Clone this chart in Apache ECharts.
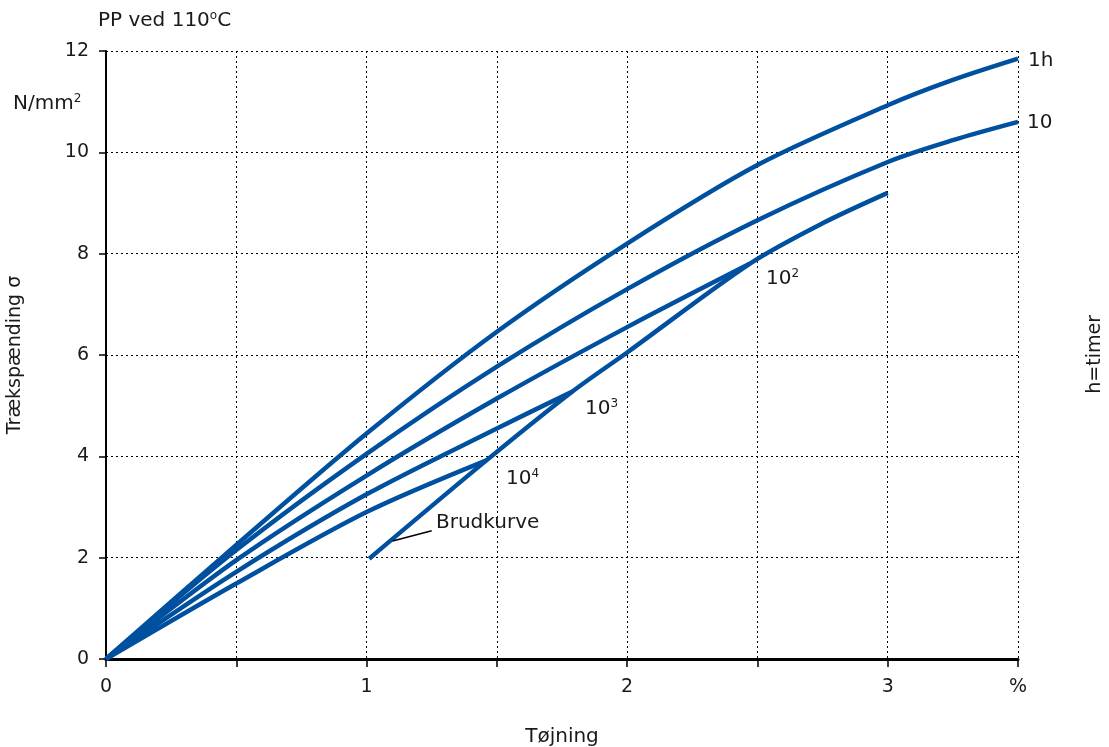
<!DOCTYPE html>
<html>
<head>
<meta charset="utf-8">
<script src="https://cdn.jsdelivr.net/npm/echarts@6/dist/echarts.min.js"></script>
<style>
  html, body { margin: 0; padding: 0; background: #fff; }
  #chart { width: 1109px; height: 747px; }
</style>
</head>
<body>
<div id="chart"></div>
<script>
// strain (%) vs stress (N/mm2)
const curve1h = [[0, 0], [0.5, 2.25], [1, 4.45], [1.5, 6.46], [2, 8.2], [2.5, 9.75], [3, 10.93], [3.25, 11.43], [3.5, 11.85]];
const curve10 = [[0, 0], [0.5, 2.15], [1, 4.05], [1.5, 5.77], [2, 7.3], [2.5, 8.66], [3, 9.81], [3.25, 10.24], [3.5, 10.6]];
const curve100 = [[0, 0], [0.5, 1.95], [1, 3.62], [1.5, 5.14], [2, 6.55], [2.47, 7.8]];
const curve1000 = [[0, 0], [0.5, 1.72], [1, 3.25], [1.5, 4.55], [1.79, 5.28]];
const curve10000 = [[0, 0], [0.5, 1.49], [1, 2.9], [1.46, 3.92]];
const brudkurve = [[1.01, 1.98], [1.46, 3.92], [1.79, 5.28], [2, 6.05], [2.47, 7.8], [2.75, 8.6], [3, 9.2]];
const brudLeader = [[1.1, 2.33], [1.25, 2.53]];

const xTickLabels = { 0: '0', 1: '1', 2: '2', 3: '3', 3.5: '%' };

const blue = '#0050a0';
const font = 'DejaVu Sans';
const textColor = '#1a1a1a';

const chart = echarts.init(document.getElementById('chart'));

function curve(data) {
  return {
    type: 'line',
    data: data,
    symbol: 'none',
    smooth: 0.3,
    lineStyle: { color: blue, width: 4.5 },
    z: 3
  };
}

const sup = { fontFamily: font, fontSize: 12, color: textColor, verticalAlign: 'top', padding: [0, 0, 10, 0] };
const base = { fontFamily: font, fontSize: 20, color: textColor };

function label(left, top, text) {
  return {
    type: 'text', left: left, top: top,
    style: { text: text, rich: { b: base, s: sup }, font: '20px ' + font, fill: textColor }
  };
}

const option = {
  animation: false,
  grid: { left: 106, right: 91, top: 51, bottom: 88, outerBoundsMode: 'none' },
  xAxis: {
    type: 'value',
    min: 0, max: 3.5, interval: 0.5,
    name: 'Tøjning',
    nameLocation: 'middle',
    nameGap: 68,
    nameTextStyle: { fontFamily: font, fontSize: 20, color: textColor },
    axisLine: { onZero: false, lineStyle: { color: '#000', width: 3 } },
    axisTick: { show: true, length: 8, lineStyle: { color: '#000', width: 1.5 } },
    axisLabel: {
      margin: 19, fontFamily: font, fontSize: 19, color: textColor,
      formatter: v => xTickLabels[v] !== undefined ? xTickLabels[v] : ''
    },
    splitLine: { show: true, lineStyle: { color: '#000', type: [2, 3], width: 1 } }
  },
  yAxis: {
    type: 'value',
    min: 0, max: 12, interval: 2,
    name: 'Trækspænding σ',
    nameLocation: 'middle',
    nameGap: 81,
    nameTextStyle: { fontFamily: font, fontSize: 19, color: textColor },
    axisLine: { show: true, lineStyle: { color: '#000', width: 2 } },
    axisTick: { show: true, length: 7, lineStyle: { color: '#000', width: 1.5 } },
    axisLabel: { margin: 17, fontFamily: font, fontSize: 19, color: textColor },
    splitLine: { show: true, lineStyle: { color: '#000', type: [2, 3], width: 1 } }
  },
  series: [
    curve(curve1h),
    curve(curve10),
    curve(curve100),
    curve(curve1000),
    curve(curve10000),
    curve(brudkurve),
    {
      type: 'line', data: brudLeader, symbol: 'none',
      lineStyle: { color: '#000', width: 1.5 }, z: 4
    }
  ],
  graphic: [
    label(98, 10, '{b|PP ved 110}{s|o}{b|C}'),
    label(13, 93, '{b|N/mm}{s|2}'),
    label(1028, 51, '{b|1h}'),
    label(1027, 113, '{b|10}'),
    label(766, 268, '{b|10}{s|2}'),
    label(585, 398, '{b|10}{s|3}'),
    label(506, 468, '{b|10}{s|4}'),
    label(436, 513, '{b|Brudkurve}'),
    {
      type: 'text', left: 1086, top: 315, rotation: Math.PI / 2,
      style: { text: 'h=timer', font: '19px ' + font, fill: textColor }
    }
  ]
};

chart.setOption(option);
</script>
</body>
</html>
